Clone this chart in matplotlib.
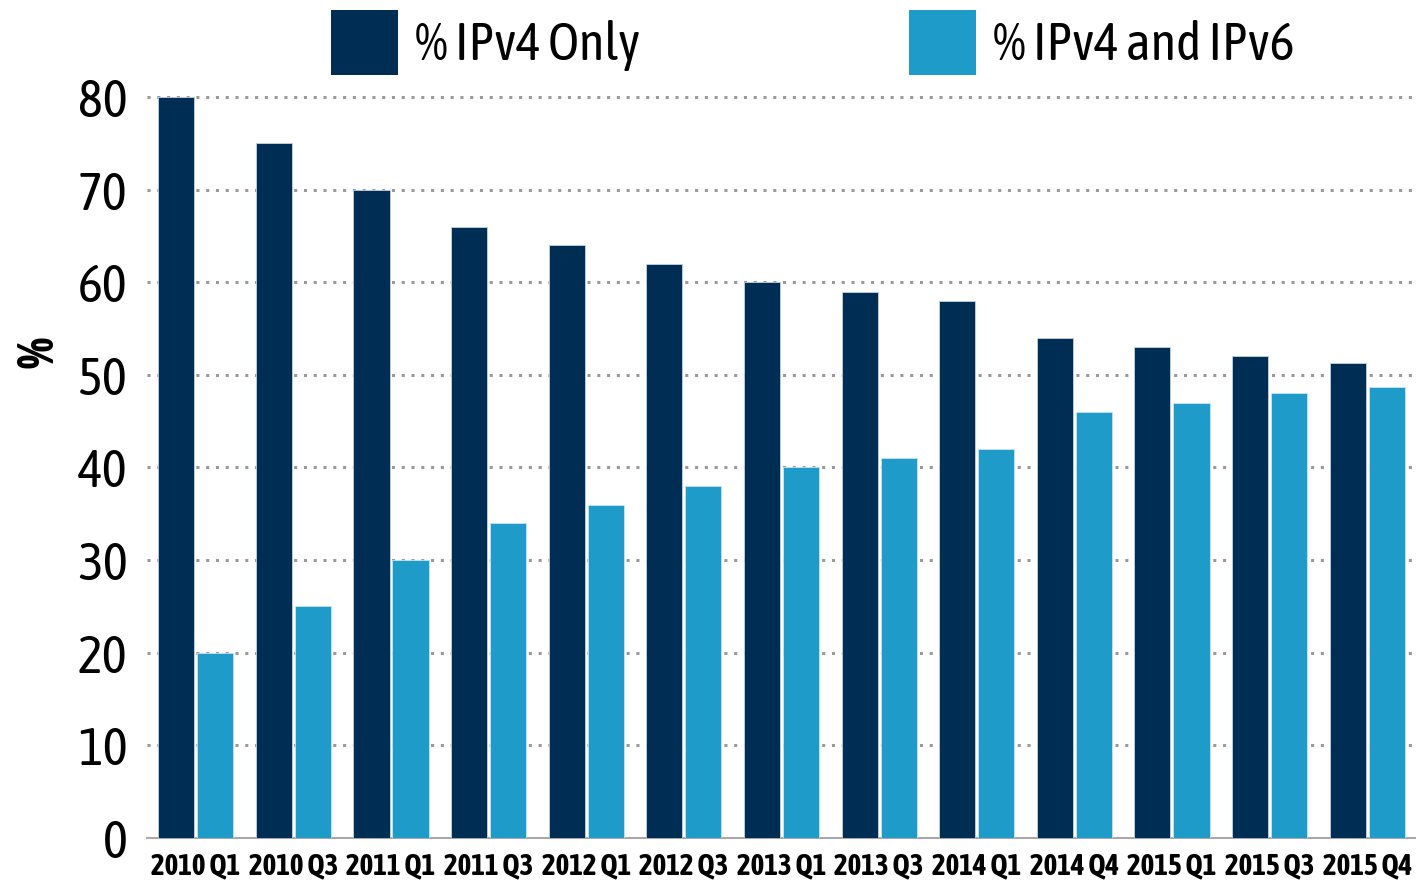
import numpy as np
import matplotlib.pyplot as plt
from matplotlib.patches import Patch

plt.rcParams['font.family'] = ['Asap Condensed', 'DejaVu Sans']

# Data
quarters = ["2010 Q1", "2010 Q3", "2011 Q1", "2011 Q3", "2012 Q1", "2012 Q3", "2013 Q1",
            "2013 Q3", "2014 Q1", "2014 Q4", "2015 Q1", "2015 Q3", "2015 Q4"]
ipv4_only = [80, 75, 70, 66, 64, 62, 60, 59, 58, 54, 53, 52, 51.3]
ipv4_ipv6 = [20, 25, 30, 34, 36, 38, 40, 41, 42, 46, 47, 48, 48.7]

dark = "#002d54"
light = "#1e9bc9"

fig = plt.figure(figsize=(14.16, 8.82), dpi=100)
ax = fig.add_axes([0.1038, 0.05, 0.8962, 0.861])

x = np.arange(len(quarters))
w = 0.37
ax.bar(x - 0.2, ipv4_only, width=w, color=dark, edgecolor="#c5d2de", linewidth=0.6, zorder=3)
ax.bar(x + 0.2, ipv4_ipv6, width=w, color=light, edgecolor="#c5e4f0", linewidth=0.6, zorder=3)

ax.set_xlim(-0.5, len(quarters) - 0.5)
ax.set_ylim(0, 82)
ax.set_yticks(range(0, 81, 10))
ax.set_xticks(x)
ax.set_xticklabels(quarters, fontsize=21, fontweight="bold")
ax.tick_params(axis="y", labelsize=38, length=0, pad=14)
ax.tick_params(axis="x", length=0, pad=10)

for y in range(10, 81, 10):
    ax.axhline(y, color="#9a9a9a", lw=2.2, ls=(0, (1, 2.2)), zorder=1)

for s in ["left", "right", "top"]:
    ax.spines[s].set_visible(False)
ax.spines["bottom"].set_color("#a8a8a8")
ax.spines["bottom"].set_linewidth(1.5)

fig.text(0.028, 0.6, "%", rotation=90, fontsize=36, fontweight="heavy", ha="center", va="center")

handles = [Patch(facecolor=dark), Patch(facecolor=light)]
fig.legend(handles, ["% IPv4 Only", "% IPv4 and IPv6"], loc="upper left",
           bbox_to_anchor=(0.2075, 1.031), ncol=2, frameon=False, fontsize=38,
           handlelength=1.27, handleheight=1.52, handletextpad=0.32,
           columnspacing=5.1, borderaxespad=0.3)

fig.savefig("out.png", dpi=100)
